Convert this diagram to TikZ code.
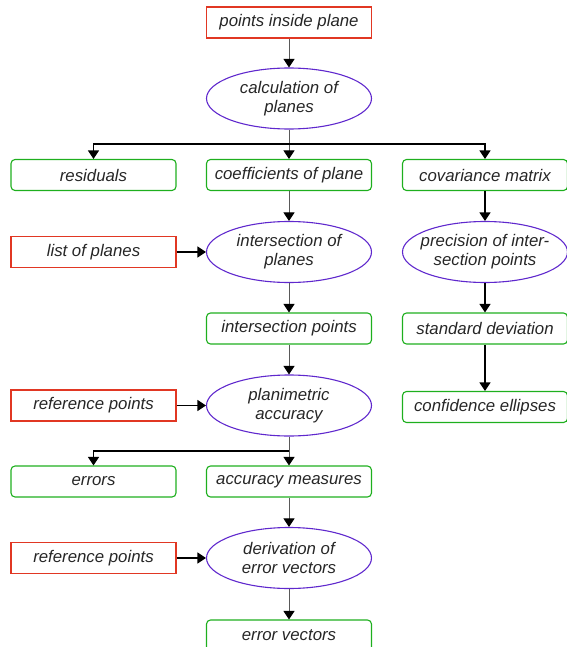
\documentclass[tikz,border=0pt]{standalone}
\usepackage{fontspec}
\setmainfont{Liberation Sans}
\usetikzlibrary{shapes.geometric,arrows.meta}
\definecolor{rbord}{RGB}{225,55,35}
\definecolor{gbord}{RGB}{30,175,30}
\definecolor{pbord}{RGB}{95,40,205}
\tikzset{
  base/.style={font=\fontsize{16.8}{19}\selectfont\itshape, text=black!85, align=center, inner sep=0pt, line width=1.1pt},
  inbox/.style={base, draw=rbord, rectangle, minimum width=165pt, minimum height=31pt},
  outbox/.style={base, draw=gbord, rectangle, rounded corners=4pt, minimum width=165pt, minimum height=31pt},
  proc/.style={base, draw=pbord, ellipse, inner xsep=-20pt, inner ysep=-5pt, minimum width=165pt, minimum height=61pt},
  thinarr/.style={draw=black!65, line width=0.9pt, -{Triangle[length=8.5pt,width=11pt,color=black]}},
  thinln/.style={draw=black!65, line width=0.9pt},
  thickarr/.style={draw=black, line width=1.4pt, -{Triangle[length=8.5pt,width=11pt]}},
  thickln/.style={draw=black, line width=1.4pt}
}
\begin{document}
\begin{tikzpicture}[x=1pt,y=-1pt]
\useasboundingbox (0,0) rectangle (566,647);
\node[inbox] (p1) at (289,22.5) {points inside plane};
\node[proc] (calc) at (289,98.5) {calculation of\\planes};
\node[outbox] (res) at (93.5,175) {residuals};
\node[outbox] (coef) at (289,175) {coefficients of plane};
\node[outbox] (cov) at (485,175) {covariance matrix};
\node[inbox] (list) at (93.5,252) {list of planes};
\node[proc] (inter) at (289,252) {intersection of\\planes};
\node[proc] (prec) at (485,252) {precision of inter-\\section points};
\node[outbox] (ipts) at (289,328.5) {intersection points};
\node[outbox] (sd) at (485,328.5) {standard deviation};
\node[inbox] (ref1) at (93.5,405.5) {reference points};
\node[proc] (plan) at (289,405.5) {planimetric\\accuracy};
\node[outbox] (conf) at (485,407) {confidence ellipses};
\node[outbox] (err) at (93.5,481.5) {errors};
\node[outbox] (acc) at (289,481.5) {accuracy measures};
\node[inbox] (ref2) at (93.5,558) {reference points};
\node[proc] (der) at (289,558) {derivation of\\error vectors};
\node[outbox] (ev) at (289,635.5) {error vectors};
\coordinate (b1) at (289,144);
\coordinate (b2) at (289,451);
\draw[thinarr] (p1) -- (calc);
\draw[thinln] (calc) -- (b1);
\draw[thinarr] (b1) -- (coef);
\draw[thickarr] (b1) -| (res);
\draw[thickarr] (b1) -| (cov);
\draw[thinarr] (coef) -- (inter);
\draw[thickarr] (list) -- (inter);
\draw[thickarr] (cov) -- (prec);
\draw[thinarr] (inter) -- (ipts);
\draw[thickarr] (prec) -- (sd);
\draw[thinarr] (ipts) -- (plan);
\draw[thickarr] (sd) -- (conf);
\draw[thickarr] (ref1) -- (plan);
\draw[thinln] (plan) -- (b2);
\draw[thinarr] (b2) -- (acc);
\draw[thickarr] (b2) -| (err);
\draw[thinarr] (acc) -- (der);
\draw[thickarr] (ref2) -- (der);
\draw[thinarr] (der) -- (ev);
\end{tikzpicture}
\end{document}
